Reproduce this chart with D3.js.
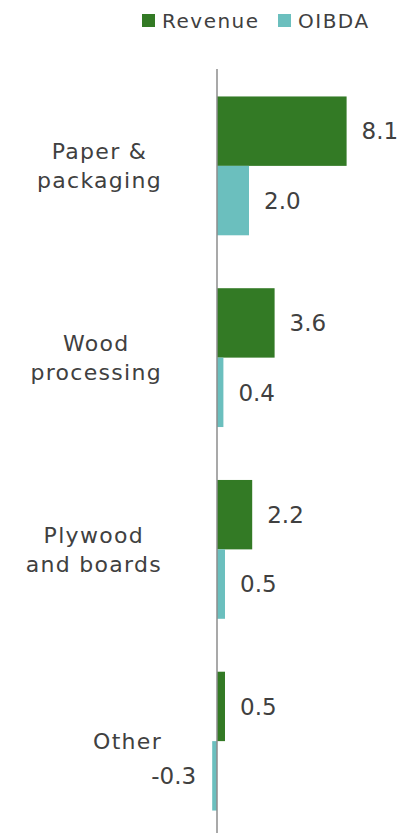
<!DOCTYPE html>
<html>
<head>
<meta charset="utf-8">
<script src="https://cdn.jsdelivr.net/npm/d3@7"></script>
<style>
  body { margin: 0; background: #fff; }
  svg text { font-family: "DejaVu Sans", sans-serif; fill: #404040; }
</style>
</head>
<body>
<div id="chart"></div>
<script>
// chart data
var categories = ["Paper & packaging", "Wood processing", "Plywood and boards", "Other"];
var categoryLines = [["Paper &", "packaging"], ["Wood", "processing"], ["Plywood", "and boards"], ["Other"]];
var seriesNames = ["Revenue", "OIBDA"];
var revenue = [8.1, 3.6, 2.2, 0.5];
var oibda = [2.0, 0.4, 0.5, -0.3];

var colors = { "Revenue": "#337a25", "OIBDA": "#6bbfbe" };

var svgWidth = 398, svgHeight = 833;

var svg = d3.select("#chart")
  .append("svg")
  .attr("width", svgWidth)
  .attr("height", svgHeight);

// one row per category, values per series
var data = categories.map(function(c, i) {
  return { cat: c, lines: categoryLines[i], values: [
    { key: "Revenue", value: revenue[i] },
    { key: "OIBDA", value: oibda[i] }
  ]};
});

var xScale = d3.scaleLinear()
  .domain([0, 10])
  .range([217, 377]);

var yScale = d3.scaleBand()
  .domain(categories)
  .range([70, 837])
  .paddingInner(0.276)
  .paddingOuter(0.138);

var ySub = d3.scaleBand()
  .domain(seriesNames)
  .range([0, yScale.bandwidth()]);

// bars
var groups = svg.selectAll(".group")
  .data(data)
  .enter()
  .append("g")
  .attr("class", "group")
  .attr("transform", d => `translate(0, ${yScale(d.cat)})`);

groups.selectAll("rect")
  .data(d => d.values)
  .enter()
  .append("rect")
  .attr("x", d => xScale(Math.min(0, d.value)))
  .attr("y", d => ySub(d.key))
  .attr("width", d => Math.abs(xScale(d.value) - xScale(0)))
  .attr("height", ySub.bandwidth())
  .attr("fill", d => colors[d.key]);

// value labels
groups.selectAll(".val")
  .data(d => d.values)
  .enter()
  .append("text")
  .attr("class", "val")
  .attr("x", d => d.value < 0 ? xScale(d.value) - 16 : xScale(d.value) + 15)
  .attr("y", d => ySub(d.key) + ySub.bandwidth() / 2)
  .attr("dy", "0.36em")
  .attr("text-anchor", d => d.value < 0 ? "end" : "start")
  .attr("font-size", "23px")
  .text(d => d.value.toFixed(1));

// vertical axis line at zero
svg.append("g")
  .attr("transform", `translate(${xScale(0)}, 0)`)
  .call(d3.axisLeft(yScale).tickSize(0).tickFormat(""))
  .call(g => g.select(".domain").attr("stroke", "#8c8c8c").attr("stroke-width", 1.5).attr("d", "M0,69V833"));

// category labels: block right edge at x=162, lines centred within block
var catLabels = svg.selectAll(".cat")
  .data(data)
  .enter()
  .append("text")
  .attr("class", "cat")
  .attr("text-anchor", "middle")
  .attr("font-size", "22px")
  .attr("letter-spacing", "1.3px")
  .attr("transform", d => `translate(0, ${yScale(d.cat) + yScale.bandwidth() / 2})`);

catLabels.selectAll("tspan")
  .data(d => d.lines.map((t, i) => ({ t: t, i: i, n: d.lines.length })))
  .enter()
  .append("tspan")
  .attr("x", 0)
  .attr("y", d => (d.i - (d.n - 1) / 2) * 29)
  .attr("dy", "0.36em")
  .text(d => d.t);

catLabels.each(function() {
  var w = 0;
  d3.select(this).selectAll("tspan").each(function() {
    w = Math.max(w, this.getComputedTextLength());
  });
  d3.select(this).selectAll("tspan").attr("x", 162 - w / 2);
});

// legend
var legendX = [142, 278];
var legend = svg.selectAll(".legend")
  .data(seriesNames)
  .enter()
  .append("g")
  .attr("class", "legend")
  .attr("transform", (d, i) => `translate(${legendX[i]}, 14)`);

legend.append("rect")
  .attr("width", 13)
  .attr("height", 13)
  .attr("fill", d => colors[d]);

legend.append("text")
  .attr("x", 20)
  .attr("y", 7)
  .attr("dy", "0.36em")
  .attr("font-size", "20px")
  .attr("letter-spacing", "1.5px")
  .text(d => d);
</script>
</body>
</html>
